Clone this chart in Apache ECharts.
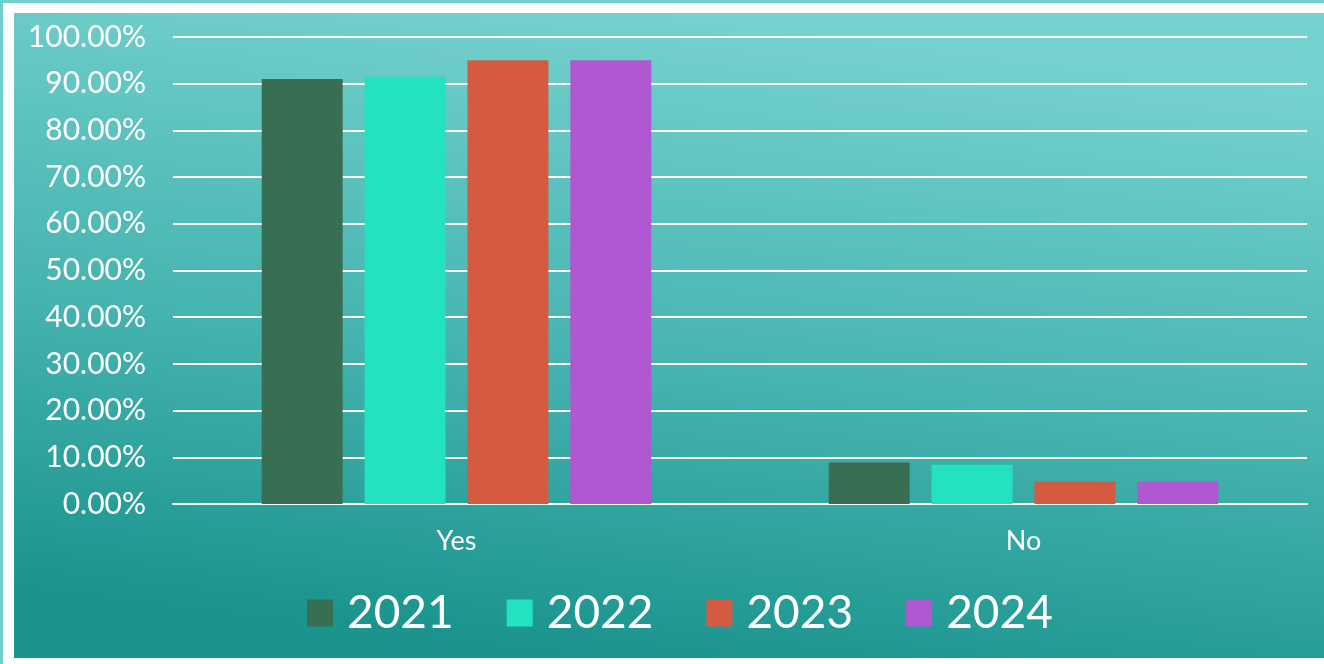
<!DOCTYPE html>
<html>
<head>
<meta charset="utf-8">
<script src="https://cdn.jsdelivr.net/npm/echarts@6/dist/echarts.min.js"></script>
<style>
  html, body { margin: 0; padding: 0; width: 1324px; height: 664px; overflow: hidden; background: #6fcfcb; }
  .frame { position: absolute; left: 3px; top: 3px; width: 1321px; height: 661px; background: #ffffff; }
  .chart { position: absolute; left: 14px; top: 13px; width: 1310px; height: 645px; }
</style>
</head>
<body>
<div class="frame"></div>
<div id="chart" class="chart"></div>
<script>
const categories = ['Yes', 'No']
const years = ['2021', '2022', '2023', '2024']
const values2021 = [91.0, 8.9]
const values2022 = [91.5, 8.4]
const values2023 = [95.0, 4.8]
const values2024 = [95.0, 4.8]
const colors = ['#386e54', '#22e2bf', '#d45b41', '#b057d2']

const seriesValues = [values2021, values2022, values2023, values2024]
const font = 'Lato, "Noto Sans", sans-serif'

const myChart = echarts.init(document.getElementById('chart'))
myChart.setOption({
  backgroundColor: new echarts.graphic.LinearGradient(0.47, 1, 0.53, 0, [
    { offset: 0, color: '#1b948e' },
    { offset: 0.45, color: '#46b4b0' },
    { offset: 1, color: '#76d2cf' }
  ]),
  animation: false,
  color: colors,
  grid: {
    left: 159,
    right: 17,
    top: 24,
    bottom: 154
  },
  legend: {
    data: years,
    left: 288,
    top: 572,
    itemWidth: 26,
    itemHeight: 27,
    itemGap: 53,
    icon: 'rect',
    textStyle: {
      color: '#ffffff',
      fontSize: 46,
      fontFamily: font,
      lineHeight: 46,
      padding: [0, 0, 0, 9]
    }
  },
  xAxis: {
    type: 'category',
    data: categories,
    axisLine: { lineStyle: { color: '#ffffff', width: 2 } },
    axisTick: { show: false },
    axisLabel: {
      color: '#ffffff',
      fontSize: 27,
      fontFamily: font,
      margin: 24
    }
  },
  yAxis: {
    type: 'value',
    min: 0,
    max: 100,
    interval: 10,
    axisLine: { show: false },
    axisTick: { show: false },
    splitLine: { lineStyle: { color: '#ffffff', width: 2 } },
    axisLabel: {
      color: '#ffffff',
      fontSize: 30,
      fontFamily: font,
      margin: 27,
      formatter: v => v.toFixed(2) + '%'
    }
  },
  series: years.map((year, i) => ({
    name: year,
    type: 'bar',
    data: seriesValues[i],
    barWidth: 81,
    barGap: '27%',
    barCategoryGap: '31%'
  }))
})
</script>
</body>
</html>
